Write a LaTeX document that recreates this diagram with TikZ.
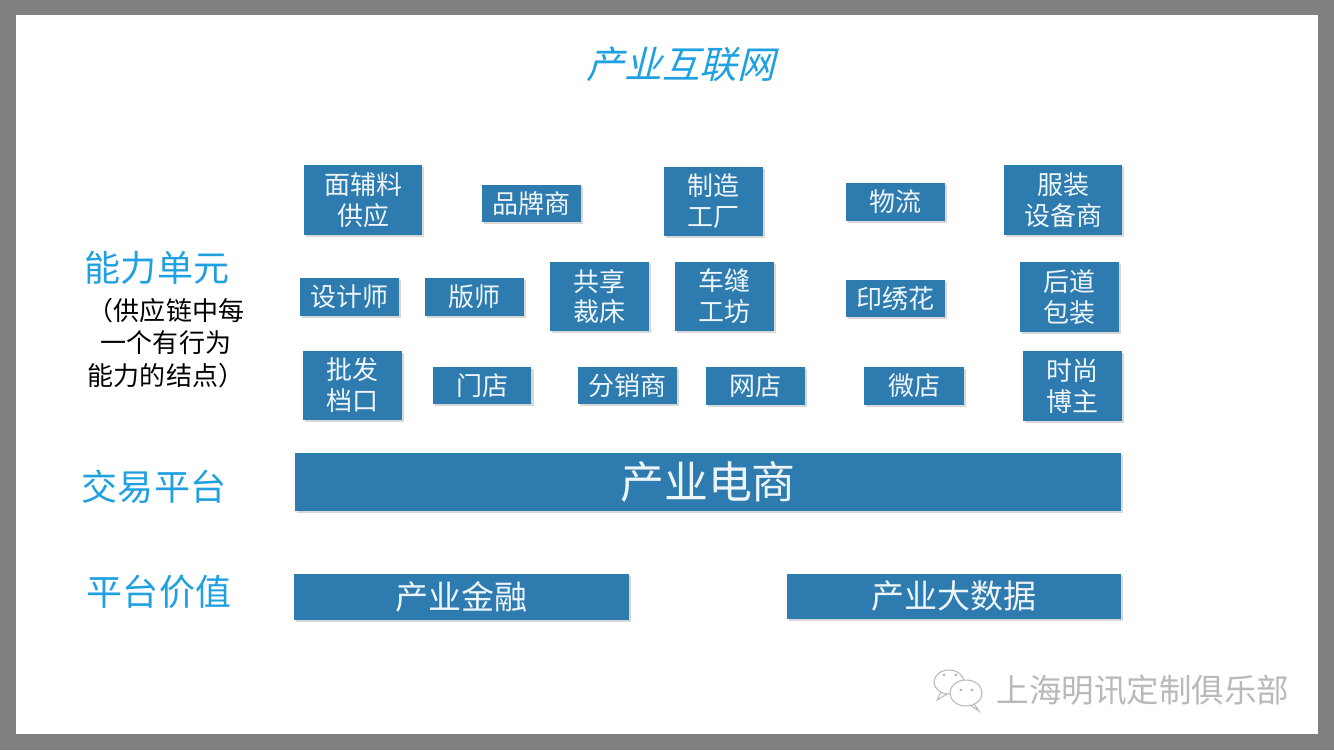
\documentclass[tikz,border=0pt]{standalone}
\usepackage{fontspec}
\newfontfamily\cjk{Noto Sans CJK SC}
\newfontfamily\cjkslant[FakeSlant=0.25]{Noto Sans CJK SC}
\usetikzlibrary{shapes,positioning,shadows}
\usepackage{xcolor}
\definecolor{unitblue}{RGB}{46,123,176}
\definecolor{labelcyan}{RGB}{30,160,225}
\definecolor{framegray}{RGB}{128,128,128}
\definecolor{markgray}{RGB}{185,185,185}
\tikzstyle{unit} = [rectangle, minimum width=1.98cm, minimum height=0.76cm, inner sep=0pt, align=center, fill=unitblue, text=white!92!unitblue, font=\cjk\fontsize{14.8}{17.6}\selectfont, drop shadow={shadow xshift=1.2pt, shadow yshift=-1.2pt, opacity=0.3}]
\tikzstyle{tallunit} = [unit, minimum height=1.39cm]
\tikzstyle{platform} = [unit, font=\cjk\fontsize{18.8}{22}\selectfont]
\tikzstyle{layer} = [text=labelcyan, font=\cjk\fontsize{20.5}{24}\selectfont]

\begin{document}
\begin{tikzpicture}[x=0.02cm, y=-0.02cm]
% Slide frame
\fill[framegray] (0,0) rectangle (1334,750);
\fill[white] (16,15) rectangle (1318,734);

% Title
\node (title) at (681,64) [text=labelcyan, font=\cjkslant\fontsize{21.5}{25}\selectfont] {产业互联网};

% Layer labels
\node (nengli) at (157,268) [layer] {能力单元};
\node (note) at (166,343) [align=center, font=\cjk\fontsize{14.8}{18.7}\selectfont] {（供应链中每\\一个有行为\\能力的结点）};
\node (jiaoyi) at (154,487) [layer] {交易平台};
\node (jiazhi) at (159,592) [layer] {平台价值};

% Capability units, first row
\node (mianfuliao) at (363,200) [tallunit, minimum width=2.36cm] {面辅料\\供应};
\node (pinpai) at (531,203.5) [unit, minimum height=0.74cm] {品牌商};
\node (zhizao) at (713,201.5) [tallunit] {制造\\工厂};
\node (wuliu) at (895.5,202) [unit] {物流};
\node (shebei) at (1063,200) [tallunit, minimum width=2.36cm] {服装\\设备商};

% Capability units, second row
\node (sheji) at (349.5,297) [unit] {设计师};
\node (banshi) at (474.5,297) [unit] {版师};
\node (caichuang) at (599.5,296.5) [tallunit] {共享\\裁床};
\node (chefeng) at (724.5,296.5) [tallunit] {车缝\\工坊};
\node (yinxiu) at (895.5,298.5) [unit, minimum height=0.74cm] {印绣花};
\node (baozhuang) at (1069.5,297) [tallunit] {后道\\包装};

% Capability units, third row
\node (pifa) at (352.5,385.5) [tallunit] {批发\\档口};
\node (mendian) at (482,385.5) [unit, minimum height=0.74cm] {门店};
\node (fenxiao) at (627,385.5) [unit, minimum height=0.74cm] {分销商};
\node (wangdian) at (755.5,386) [unit] {网店};
\node (weidian) at (914,386) [unit, minimum width=2cm] {微店};
\node (bozhu) at (1072.5,386) [tallunit] {时尚\\博主};

% Platforms
\node (dianshang) at (708,482) [platform, minimum width=16.52cm, minimum height=1.16cm, font=\cjk\fontsize{25}{30}\selectfont] {产业电商};
\node (jinrong) at (461.5,597) [platform, minimum width=6.7cm, minimum height=0.92cm] {产业金融};
\node (dashuju) at (954,596.5) [platform, minimum width=6.68cm, minimum height=0.9cm] {产业大数据};

% Watermark
\draw[markgray, fill=white, line width=0.6pt] (949,682) ellipse [x radius=15, y radius=12];
\draw[markgray, line width=0.6pt] (941,692) -- (937,700) -- (947,694);
\draw[markgray, fill=white, line width=0.6pt] (966,693) ellipse [x radius=16, y radius=13];
\draw[markgray, line width=0.6pt] (974,704) -- (979,711) -- (970,705);
\foreach \px/\py in {944/675, 956/675, 961/690, 972/690}
  \fill[markgray] (\px,\py) circle [radius=1.6];
\node (mark) at (1143,690) [text=markgray, font=\cjk\fontsize{18.5}{22}\selectfont] {上海明讯定制俱乐部};
\end{tikzpicture}
\end{document}
